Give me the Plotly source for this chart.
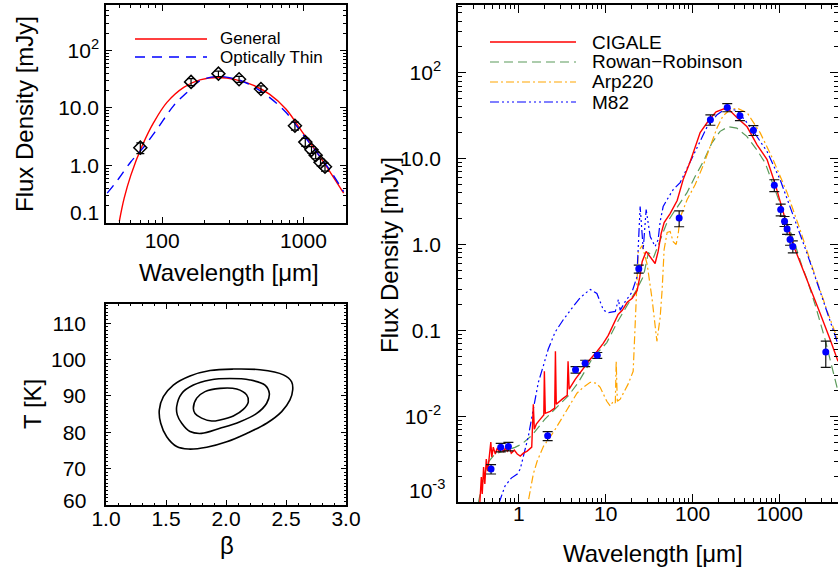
import math
import plotly.graph_objects as go

W, H = 838, 572
FONT = "Liberation Sans, Arial, Helvetica, sans-serif"

# ---------------- photometry (mJy) ----------------
phot_wl = [0.48, 0.62, 0.76, 2.15, 4.5, 5.8, 8.0, 24, 70, 160, 250, 350, 500, 870,
           1030, 1140, 1220, 1320, 1420, 3400]
phot_flux = [0.00242, 0.00433, 0.00444, 0.0059, 0.0347, 0.0413, 0.0512, 0.52, 2.04, 28.4,
             39.5, 31.6, 21.4, 4.9, 2.55, 1.87, 1.51, 1.14, 0.95, 0.056]
phot_err = [0.0003, 0.0005, 0.0005, 0.0007, 0.003, 0.0035, 0.004, 0.056, 0.43, 3.9,
            4.3, 3.8, 2.8, 0.78, 0.4, 0.25, 0.2, 0.16, 0.15, 0.019]
fit_first, fit_last = 8, 19  # 70 - 1420 micron points used for the greybody fit

# ---------------- greybody fits (top-left) ----------------
gen_wl = [49.7, 53.8, 60, 72.4, 87.3, 108, 142, 185, 249, 335, 439, 574, 751, 982, 1285, 1594, 1924]
gen_flux = [0.107, 0.27, 0.68, 2.24, 5.66, 12.5, 22.8, 30.7, 33.8, 30.8, 24.9, 17.4, 9.6, 3.81, 1.51, 0.68, 0.33]
thin_wl = [40.8, 48.4, 60, 72.4, 92.3, 120.6, 154, 185, 243, 335, 439, 574, 751, 982, 1285, 1594, 1924]
thin_flux = [0.33, 0.56, 1.16, 1.96, 4.35, 11.0, 19.9, 29.6, 35.2, 31.6, 23.7, 15.3, 8.4, 3.57, 1.51, 0.73, 0.35]

# ---------------- beta-T confidence contours (bottom-left) ----------------
c1_beta = [1.728, 1.756, 1.825, 1.95, 2.089, 2.172, 2.186, 2.144, 2.061, 1.95, 1.881, 1.797, 1.742, 1.728]
c1_T = [86.6, 89.4, 91.2, 92.1, 91.9, 90.3, 88.4, 86.3, 84.5, 83.4, 83.1, 83.9, 85.2, 86.6]
c2_beta = [1.589, 1.631, 1.728, 1.867, 2.033, 2.2, 2.325, 2.361, 2.339, 2.256, 2.117, 1.95, 1.797,
           1.7, 1.631, 1.594, 1.589]
c2_T = [87.1, 90.7, 93.0, 94.4, 94.8, 94.4, 93.0, 90.7, 88.0, 85.2, 82.9, 81.1, 79.7, 80.2, 82.5, 84.8, 87.1]
c3_beta = [1.444, 1.478, 1.561, 1.700, 1.867, 2.061, 2.283, 2.478, 2.547, 2.556, 2.533, 2.464, 2.339,
           2.172, 2.006, 1.839, 1.686, 1.589, 1.506, 1.456, 1.444]
c3_T = [86.1, 89.8, 93.0, 95.5, 97.0, 97.4, 97.2, 95.8, 93.9, 91.7, 88.9, 85.7, 82.5, 79.7, 77.4,
        75.9, 75.4, 76.1, 78.8, 82.5, 86.1]

# ---------------- SED templates (right) ----------------
cig_wl = [0.356, 0.371, 0.380, 0.394, 0.407, 0.423, 0.440, 0.458, 0.477, 0.490, 0.509, 0.537, 0.566,
          0.597, 0.629, 0.664, 0.700, 0.738, 0.778, 0.820, 0.888, 0.961, 1.04, 1.13, 1.25, 1.41, 1.47,
          1.51, 1.59, 1.77, 1.94, 1.97, 2.02, 2.30, 2.59, 2.64, 2.70, 3.16, 3.61, 3.69, 3.80, 4.46,
          5.09, 5.81, 6.63, 7.98, 9.36, 10.7, 12.2, 13.9, 15.5, 17.7, 20.2, 23.0, 24.6, 26.3, 29.2,
          32.5, 37.0, 40.1, 43.4, 47.0, 50.9, 55.1, 66.4, 77.8, 93.6, 122, 155, 186, 230, 270, 325,
          423, 551, 718, 887, 1040, 1220, 1507, 2070, 2924, 3805, 4700]
cig_flux = [0.00095, 0.00195, 0.00124, 0.00255, 0.00162, 0.00316, 0.00229, 0.00362, 0.00499, 0.00334,
            0.00436, 0.00362, 0.00425, 0.00381, 0.00448, 0.00381, 0.00425, 0.00392, 0.00436, 0.00371,
            0.00402, 0.00362, 0.00343, 0.00371, 0.00392, 0.00436, 0.0138, 0.00706, 0.00807, 0.00923,
            0.0103, 0.0333, 0.0108, 0.0114, 0.0124, 0.0570, 0.0138, 0.0158, 0.0175, 0.0436, 0.0206,
            0.0269, 0.0325, 0.0381, 0.0460, 0.0570, 0.0706, 0.0875, 0.117, 0.153, 0.171, 0.212, 0.236,
            0.292, 0.413, 0.634, 0.830, 0.706, 0.601, 0.830, 1.34, 1.80, 2.01, 2.29, 3.25, 5.70, 9.23,
            20.1, 28.4, 35.2, 38.1, 36.1, 30.0, 23.5, 14.5, 9.74, 5.12, 2.84, 1.66, 0.875, 0.392,
            0.158, 0.0786, 0.0436]

rr_wl = [0.342, 0.391, 0.446, 0.532, 0.694, 0.904, 1.08, 1.40, 1.68, 2.00, 2.84, 3.71, 4.83, 6.02,
         6.94, 10.3, 13.5, 17.5, 22.8, 27.2, 31.0, 35.4, 42.3, 50.5, 60.1, 85.8, 107, 133, 166, 207,
         258, 322, 420, 547, 681, 887, 1220, 1507, 1815, 2070, 2560, 2924, 3337, 3805, 4700]
rr_flux = [0.00097, 0.00185, 0.00292, 0.00362, 0.00395, 0.00433, 0.00472, 0.00590, 0.00739, 0.00923,
           0.0132, 0.0172, 0.0247, 0.0368, 0.0460, 0.0720, 0.123, 0.192, 0.300, 0.428, 0.807, 0.700,
           1.14, 1.79, 2.34, 3.99, 6.22, 9.31, 15.2, 20.8, 23.6, 22.7, 18.2, 12.7, 8.98, 4.36, 1.80,
           1.0, 0.555, 0.392, 0.200, 0.127, 0.0786, 0.0460, 0.0195]

arp_wl = [1.30, 1.47, 1.63, 1.93, 2.51, 3.58, 4.67, 5.51, 6.63, 7.78, 8.64, 10.3, 11.3, 12.2, 12.9,
          13.2, 13.6, 14.7, 18.1, 20.7, 22.4, 23.7, 26.3, 30.0, 34.2, 38.8, 42.3, 44.6, 47.0, 50.9,
          55.1, 59.7, 64.6, 68.1, 71.8, 86.5, 107, 132, 159, 191, 224, 270, 325, 423, 597, 842,
          1220, 1721, 2427, 3508, 4700]
arp_flux = [0.00108, 0.00212, 0.00300, 0.00448, 0.00652, 0.0121, 0.0185, 0.0217, 0.0248, 0.0242,
            0.0217, 0.0149, 0.0131, 0.0149, 0.0142, 0.0436, 0.0149, 0.0158, 0.0236, 0.0333, 0.229,
            0.830, 0.974, 0.585, 0.229, 0.0745, 0.142, 0.300, 0.875, 1.38, 1.42, 1.08, 1.0, 1.31,
            2.06, 3.34, 4.99, 8.29, 13.8, 22.9, 31.6, 37.2, 38.7, 34.3, 20.1, 9.74, 4.02, 1.49,
            0.512, 0.171, 0.0765]

m82_wl = [0.592, 0.694, 0.820, 0.961, 1.04, 1.13, 1.29, 1.47, 1.68, 1.91, 2.18, 2.61, 3.27, 4.27,
          5.09, 6.63, 7.92, 9.44, 10.8, 12.9, 14.0, 14.7, 16.8, 20.0, 22.8, 24.9, 27.0, 29.2, 32.5,
          37.0, 40.1, 42.3, 45.8, 50.9, 59.7, 71.8, 86.5, 113, 147, 191, 249, 325, 423, 551, 718,
          1014, 1429, 2070, 2924, 3805, 4700]
m82_flux = [0.00097, 0.00153, 0.00190, 0.00212, 0.00242, 0.00334, 0.00585, 0.0121, 0.0248, 0.0381,
            0.0601, 0.0948, 0.134, 0.192, 0.240, 0.300, 0.269, 0.171, 0.161, 0.166, 0.229, 0.171,
            0.217, 0.277, 0.413, 2.77, 0.875, 2.55, 1.24, 0.948, 1.14, 1.85, 2.77, 3.34, 4.36, 5.26,
            7.85, 13.8, 23.6, 32.5, 39.2, 36.1, 26.2, 18.0, 12.1, 5.70, 2.23, 0.786, 0.284, 0.127,
            0.0687]

# ---------------- tick labels ----------------
tl_xvals, tl_xtext = [100, 1000], ["100", "1000"]
tl_yvals, tl_ytext = [1, 10, 100], ["1.0", "10.0", "10<sup>2</sup>"]
bl_xvals, bl_xtext = [1.0, 1.5, 2.0, 2.5, 3.0], ["1.0", "1.5", "2.0", "2.5", "3.0"]
bl_yvals, bl_ytext = [70, 80, 90, 100, 110], ["70", "80", "90", "100", "110"]
r_xvals, r_xtext = [1, 10, 100, 1000], ["1", "10", "100", "1000"]
r_yvals = [0.01, 0.1, 1, 10, 100]
r_ytext = ["10<sup>-2</sup>", "0.1", "1.0", "10.0", "10<sup>2</sup>"]


def minor_log(e0, e1):
    return [m * 10.0 ** e for e in range(e0, e1 + 1) for m in range(2, 10)]


def fx(p):
    return p / W


def fy(p):
    return 1 - p / H


def axis(**kw):
    base = dict(showline=True, linecolor="black", linewidth=1.5, mirror="ticks", ticks="inside",
                tickcolor="black", tickwidth=1.2, showgrid=False, zeroline=False, automargin=False,
                tickfont=dict(family=FONT, size=21, color="black"), tickmode="array")
    base.update(kw)
    return base


fig = go.Figure()

# ---- top-left: greybody fits ----
fig.add_trace(go.Scatter(x=gen_wl, y=gen_flux, mode="lines", line=dict(color="#FF0000", width=1.4, shape="spline"),
                         xaxis="x", yaxis="y", showlegend=False))
fig.add_trace(go.Scatter(x=thin_wl, y=thin_flux, mode="lines",
                         line=dict(color="#0000FF", width=1.4, dash="10px,7px", shape="spline"),
                         xaxis="x", yaxis="y", showlegend=False))
fig.add_trace(go.Scatter(x=phot_wl[fit_first:fit_last], y=phot_flux[fit_first:fit_last], mode="markers",
                         marker=dict(symbol="diamond-open", size=10, color="black", line=dict(width=1.5)),
                         error_y=dict(type="data", array=phot_err[fit_first:fit_last], color="black",
                                      thickness=1.2, width=4),
                         xaxis="x", yaxis="y", showlegend=False))

# ---- bottom-left: contours ----
for b, t in [(c1_beta, c1_T), (c2_beta, c2_T), (c3_beta, c3_T)]:
    fig.add_trace(go.Scatter(x=b, y=t, mode="lines", line=dict(color="black", width=1.6, shape="spline"),
                             xaxis="x2", yaxis="y2", showlegend=False))

# ---- right: SED ----
GREEN, ORANGE, BLUE, RED = "#5A9A5A", "#FFA500", "#0000FF", "#FF0000"
fig.add_trace(go.Scatter(x=rr_wl, y=rr_flux, mode="lines", line=dict(color=GREEN, width=1.2, dash="9px,5px"),
                         xaxis="x3", yaxis="y3", showlegend=False))
fig.add_trace(go.Scatter(x=arp_wl, y=arp_flux, mode="lines",
                         line=dict(color=ORANGE, width=1.2, dash="8px,3px,2px,3px"),
                         xaxis="x3", yaxis="y3", showlegend=False))
fig.add_trace(go.Scatter(x=m82_wl, y=m82_flux, mode="lines",
                         line=dict(color=BLUE, width=1.2, dash="9px,3px,2px,3px,2px,3px,2px,3px"),
                         xaxis="x3", yaxis="y3", showlegend=False))
fig.add_trace(go.Scatter(x=cig_wl, y=cig_flux, mode="lines", line=dict(color=RED, width=1.4),
                         xaxis="x3", yaxis="y3", showlegend=False))
fig.add_trace(go.Scatter(x=phot_wl, y=phot_flux, mode="markers",
                         marker=dict(symbol="circle", size=7, color=BLUE),
                         error_y=dict(type="data", array=phot_err, color="#111111", thickness=1.2, width=5),
                         xaxis="x3", yaxis="y3", showlegend=False))

# ---- axes ----
fig.update_layout(
    xaxis=axis(type="log", range=[math.log10(40), math.log10(2000)], domain=[fx(106), fx(346)], anchor="y",
               tickvals=tl_xvals, ticktext=tl_xtext, ticklen=6, ticklabelstandoff=-2,
               minor=dict(ticks="inside", ticklen=3, tickcolor="black", tickwidth=1, tickmode="array",
                          tickvals=minor_log(1, 3))),
    yaxis=axis(type="log", range=[-1, 2.79], domain=[fy(223), fy(5)], anchor="x",
               tickvals=tl_yvals, ticktext=tl_ytext, ticklen=6, ticklabelstandoff=1,
               minor=dict(ticks="inside", ticklen=3, tickcolor="black", tickwidth=1, tickmode="array",
                          tickvals=minor_log(-1, 2))),
    xaxis2=axis(range=[1.0, 3.0], domain=[fx(106), fx(346)], anchor="y2",
                tickvals=bl_xvals, ticktext=bl_xtext, ticklen=5, ticklabelstandoff=-6,
                minor=dict(ticks="inside", ticklen=2.5, tickcolor="black", tickwidth=1, dtick=0.1, tick0=1.0)),
    yaxis2=axis(range=[60, 115.3], domain=[fy(505), fy(304)], anchor="x2",
                tickvals=bl_yvals, ticktext=bl_ytext, ticklen=5, ticklabelstandoff=14,
                minor=dict(ticks="inside", ticklen=2.5, tickcolor="black", tickwidth=1, dtick=1, tick0=60)),
    xaxis3=axis(type="log", range=[math.log10(0.2), 3.672], domain=[fx(458), 1.0], anchor="y3",
                tickvals=r_xvals, ticktext=r_xtext, ticklen=8, ticklabelstandoff=-8,
                minor=dict(ticks="inside", ticklen=4, tickcolor="black", tickwidth=1, tickmode="array",
                           tickvals=minor_log(-1, 3))),
    yaxis3=axis(type="log", range=[-3, 2.79], domain=[fy(502), fy(5)], anchor="x3",
                tickvals=r_yvals, ticktext=r_ytext, ticklen=8, ticklabelstandoff=11,
                minor=dict(ticks="inside", ticklen=4, tickcolor="black", tickwidth=1, tickmode="array",
                           tickvals=minor_log(-3, 2))),
)


def ann(text, x, y, size, angle=0, xanchor="center"):
    return dict(text=text, x=fx(x), y=fy(y), xref="paper", yref="paper", showarrow=False,
                font=dict(family=FONT, size=size, color="black"), textangle=angle,
                xanchor=xanchor, yanchor="middle")


annotations = [
    ann("Flux Density [mJy]", 25, 114, 24, -90),
    ann("Wavelength [\u03bcm]", 229, 272, 24),
    ann("T [K]", 32, 404, 24, -90),
    ann("\u03b2", 227, 545, 24),
    ann("Flux Density [mJy]", 389, 255, 24, -90),
    ann("Wavelength [\u03bcm]", 653, 553, 24),
    ann("0.1", 101, 212, 21, xanchor="right"),
    ann("60", 88, 500, 21, xanchor="right"),
    ann("10<sup>-3</sup>", 447, 489, 21, xanchor="right"),
    # legends
    ann("General", 218, 39, 17, xanchor="left"),
    ann("Optically Thin", 218, 57, 17, xanchor="left"),
    ann("CIGALE", 590, 42, 19, xanchor="left"),
    ann("Rowan\u2212Robinson", 590, 62, 19, xanchor="left"),
    ann("Arp220", 590, 82, 19, xanchor="left"),
    ann("M82", 590, 102, 19, xanchor="left"),
]


def lshape(x0, x1, y, color, dash="solid", width=1.4):
    return dict(type="line", xref="paper", yref="paper", x0=fx(x0), x1=fx(x1), y0=fy(y), y1=fy(y),
                line=dict(color=color, width=width, dash=dash))


shapes = [
    lshape(135, 207, 39, "#FF0000"),
    lshape(135, 207, 57, "#0000FF", "10px,7px"),
    lshape(490, 576, 42, RED),
    lshape(490, 576, 62, GREEN, "9px,5px", 1.2),
    lshape(490, 576, 82, ORANGE, "8px,3px,2px,3px", 1.2),
    lshape(490, 576, 102, BLUE, "9px,3px,2px,3px,2px,3px,2px,3px", 1.2),
]

fig.update_layout(width=W, height=H, margin=dict(l=0, r=0, t=0, b=0, pad=0), paper_bgcolor="white",
                  plot_bgcolor="white", annotations=annotations, shapes=shapes, showlegend=False,
                  autosize=False)

fig.write_html("out.html", config={"responsive": False, "displayModeBar": False},
               post_script="document.body.style.margin='0px';document.body.style.overflow='hidden';")
